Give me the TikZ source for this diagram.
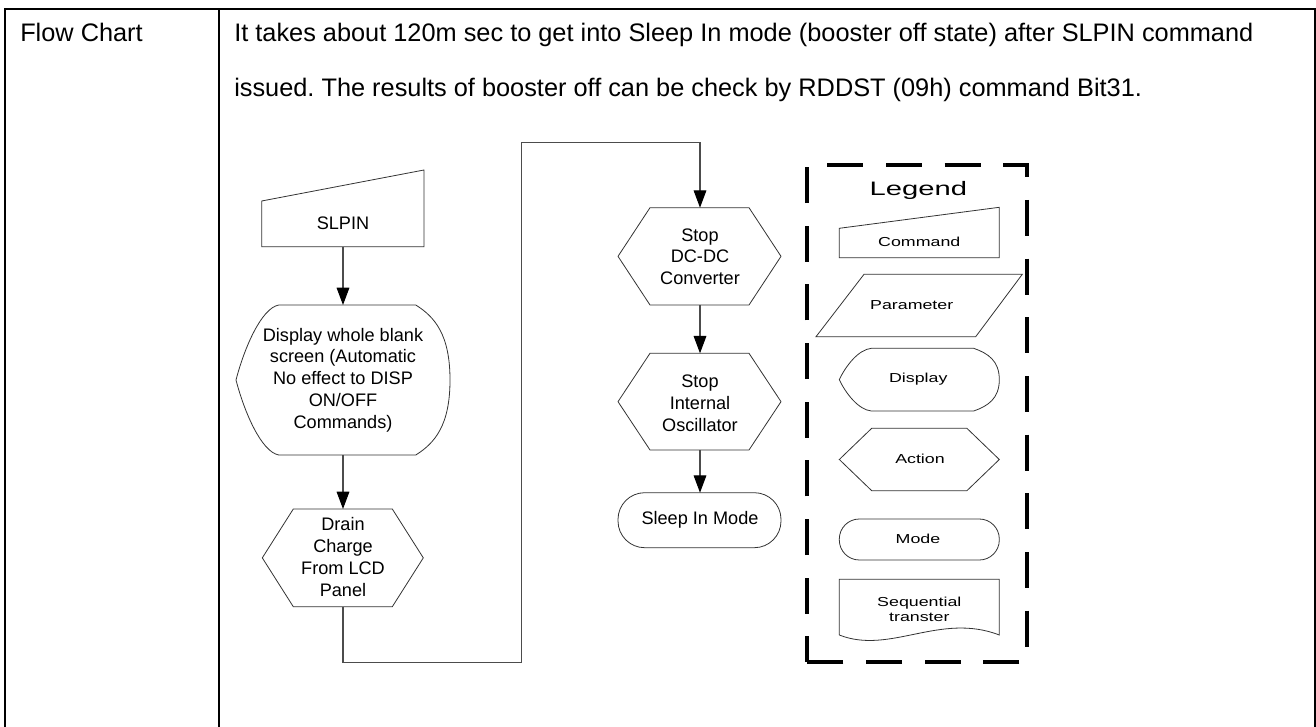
\documentclass[tikz,border=0pt]{standalone}
\usepackage{fontspec}
\setmainfont{Liberation Sans}
\usetikzlibrary{arrows.meta}
\frenchspacing
\newcommand{\dispshape}[4]{% x0, x1, top, bottom
  \pgfmathsetmacro{\dW}{#2-#1}\pgfmathsetmacro{\dH}{#4-#3}\pgfmathsetmacro{\dM}{(#3+#4)/2}%
  \draw[shp] ({#1+0.2*\dW},#3) -- ({#1+0.84*\dW},#3)
    .. controls ({#1+0.93*\dW},{#3+0.08*\dH}) and (#2,{\dM-0.3*\dH}) .. (#2,\dM)
    .. controls (#2,{\dM+0.3*\dH}) and ({#1+0.93*\dW},{#4-0.08*\dH}) .. ({#1+0.84*\dW},#4)
    -- ({#1+0.2*\dW},#4)
    .. controls ({#1+0.12*\dW},{#4-0.02*\dH}) and ({#1+0.04*\dW},{\dM+0.22*\dH}) .. (#1,\dM)
    .. controls ({#1+0.04*\dW},{\dM-0.22*\dH}) and ({#1+0.12*\dW},{#3+0.02*\dH}) .. cycle;}
\newcommand{\hexshape}[5]{% x0, x1, inset, top, bottom
  \draw[shp] ({#1+#3},#4) -- ({#2-#3},#4) -- (#2,{(#4+#5)/2}) -- ({#2-#3},#5) -- ({#1+#3},#5) -- (#1,{(#4+#5)/2}) -- cycle;}
\begin{document}
\begin{tikzpicture}[x=0.75pt,y=-0.75pt,
  shp/.style={draw=black!80, line width=0.6pt},
  conn/.style={draw=black!70, line width=0.8pt},
  arr/.style={conn, -{Triangle[length=13pt,width=9.5pt,color=black]}},
  ftxt/.style={font=\fontsize{13.6}{16.3}\selectfont, align=center, inner sep=0pt},
  ltxt/.style={font=\fontsize{9.75}{10.8}\selectfont, align=center, inner sep=0pt},
  tbl/.style={draw=black, line width=1pt},
  ttxt/.style={font=\fontsize{19}{22}\selectfont, anchor=base west, inner sep=0pt}]
\useasboundingbox (0,0) rectangle (1316,727);
% table
\draw[tbl] (5,727) -- (5,9) -- (1315,9) -- (1315,727);
\draw[tbl] (219,9) -- (219,727);
\node[ttxt] (fc) at (20,41.7) {Flow Chart};
\node[ttxt] (l1) at (234,41.7) {It takes about 120m sec to get into Sleep In mode (booster off state) after SLPIN command};
\node[ttxt] (l2) at (234,97) {issued. The results of booster off can be check by RDDST (09h) command Bit31.};
% flowchart shapes
\draw[shp] (261.7,201) -- (424,170) -- (424,246.7) -- (261.7,246.7) -- cycle;
\dispshape{236}{450}{305}{455}
\hexshape{262.3}{423.3}{31}{509}{606.7}
\hexshape{618}{781}{32}{207.7}{305}
\hexshape{618}{781}{32}{353.3}{450}
\draw[shp, rounded corners=20pt] (618,492.7) rectangle (781,547.7);
% flowchart texts
\node[ftxt] (slpin) at (343,223) {SLPIN};
\node[ftxt] (disp) at (343,380) {Display whole blank\\screen (Automatic\\No effect to DISP\\ON/OFF\\Commands)};
\node[ftxt] (drain) at (343,557) {Drain\\Charge\\From LCD\\Panel};
\node[ftxt] (dcdc) at (700,256.7) {Stop\\DC-DC\\Converter};
\node[ftxt] (osc) at (700,403.3) {Stop\\Internal\\Oscillator};
\node[ftxt] (sleep) at (700,520) {Sleep In Mode};
% connector anchors
\coordinate (slpinB) at (343,246.7);
\coordinate (dispT) at (343,305);
\coordinate (dispB) at (343,455);
\coordinate (drainT) at (343,509);
\coordinate (drainB) at (343,606.7);
\coordinate (bendA) at (521.7,662.7);
\coordinate (bendB) at (521.7,142.7);
\coordinate (dcT) at (700,207.7);
\coordinate (dcB) at (700,305);
\coordinate (oscT) at (700,353.3);
\coordinate (oscB) at (700,450);
\coordinate (sleepT) at (700,492.7);
\draw[arr] (slpinB) -- (dispT);
\draw[arr] (dispB) -- (drainT);
\draw[arr] (drainB) |- (bendA) -- (bendB) -| (dcT);
\draw[arr] (dcB) -- (oscT);
\draw[arr] (oscB) -- (sleepT);
% legend
\draw[line width=3pt, dash pattern=on 27pt off 17pt, dash phase=8pt] (806.7,661.7) -- (806.7,165) -- (1027,165) -- (1027,661.7) -- cycle;
\node[font=\fontsize{14.6}{16}\selectfont, inner sep=0pt] (leg) at (918.3,190) {\scalebox{1.5}[1]{Legend}};
\draw[shp] (839.3,228.3) -- (999.3,207.3) -- (999.3,257.7) -- (839.3,257.7) -- cycle;
\node[ltxt] (lcmd) at (919.3,241.7) {\scalebox{1.37}[1]{Command}};
\draw[shp] (864,274.3) -- (1022.3,274.3) -- (975.7,336.7) -- (816,336.7) -- cycle;
\node[ltxt] (lpar) at (911.7,305) {\scalebox{1.37}[1]{Parameter}};
\dispshape{839.3}{999.3}{348.3}{411}
\node[ltxt] (ldisp) at (918.3,379.3) {\scalebox{1.37}[1]{Display}};
\hexshape{839.3}{999.3}{32.4}{428.3}{490.7}
\node[ltxt] (lact) at (920,459) {\scalebox{1.37}[1]{Action}};
\draw[shp, rounded corners=15pt] (839.3,519) rectangle (999.3,560);
\node[ltxt] (lmode) at (918,539) {\scalebox{1.37}[1]{Mode}};
\draw[shp] (839.3,635) -- (839.3,579.3) -- (999.3,579.3) -- (999.3,635)
  .. controls (940,612) and (890,655) .. (839.3,635);
\node[ltxt] (lseq1) at (919.3,603.3) {\scalebox{1.37}[1]{Sequential}};
\node[ltxt] (lseq2) at (919.3,617.7) {\scalebox{1.37}[1]{transter}};
\end{tikzpicture}
\end{document}
